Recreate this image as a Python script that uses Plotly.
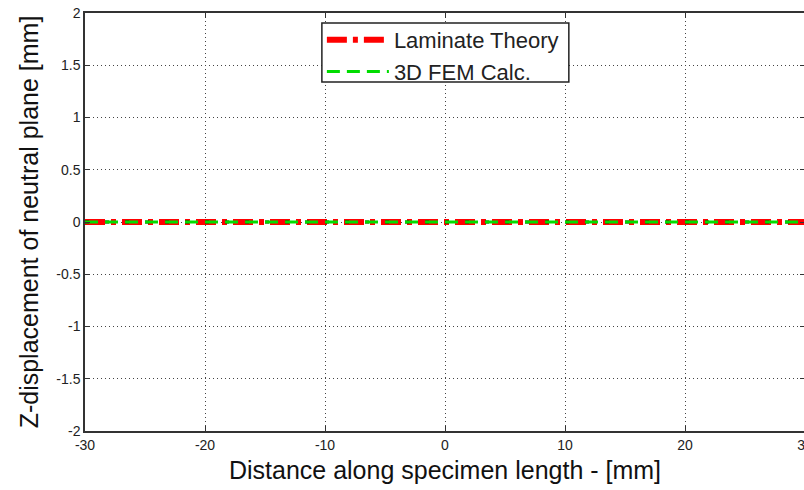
import plotly.graph_objects as go

# data
x_vals = [-30, -20, -10, 0, 10, 20, 30]
laminate_theory = [0, 0, 0, 0, 0, 0, 0]
fem_calc = [0, 0, 0, 0, 0, 0, 0]
x_ticks = [-30, -20, -10, 0, 10, 20, 30]
x_tick_labels = ["-30", "-20", "-10", "0", "10", "20", "30"]
y_ticks = [-2, -1.5, -1, -0.5, 0, 0.5, 1, 1.5, 2]
y_tick_labels = ["-2", "-1.5", "-1", "-0.5", "0", "0.5", "1", "1.5", "2"]

fig = go.Figure()
fig.add_trace(go.Scatter(x=x_vals, y=laminate_theory, mode="lines", name="Laminate Theory",
                         line=dict(color="#ff0000", width=6, dash="20px,6px,5px,6px")))
fig.add_trace(go.Scatter(x=x_vals, y=fem_calc, mode="lines", showlegend=False,
                         line=dict(color="black", width=3, dash="4px,16px")))
fig.add_trace(go.Scatter(x=x_vals, y=fem_calc, mode="lines", name="3D FEM Calc.",
                         line=dict(color="#00dd00", width=3, dash="13px,7px")))

axis_common = dict(showline=True, linecolor="#333333", linewidth=1.5, mirror="ticks",
                   ticks="inside", ticklen=5, tickcolor="#333333",
                   showgrid=True, gridcolor="#444444", griddash="1px,3px", gridwidth=1,
                   zeroline=False, ticklabeloverflow="allow", automargin=False,
                   tickfont=dict(family="Liberation Sans", size=14, color="#222222"))

fig.update_xaxes(range=[-30, 30], tickvals=x_ticks, ticktext=x_tick_labels,
                 title=dict(text="Distance along specimen length - [mm]",
                            font=dict(family="Liberation Sans", size=25, color="#111111"), standoff=10),
                 **axis_common)
fig.update_yaxes(range=[-2, 2], tickvals=y_ticks, ticktext=y_tick_labels,
                 title=dict(text="Z-displacement of neutral plane [mm]",
                            font=dict(family="Liberation Sans", size=25, color="#111111"), standoff=11),
                 **axis_common)

# legend frame (MATLAB-style tight box)
fig.add_shape(type="rect", xref="paper", yref="paper",
              x0=0.329, x1=0.672, y0=0.835, y1=0.976,
              line=dict(color="#222222", width=1.5), fillcolor="white", layer="above")

fig.update_layout(
    width=808, height=490,
    margin=dict(l=85, r=3, t=13, b=59),
    plot_bgcolor="white", paper_bgcolor="white",
    legend=dict(x=0.329, y=0.9856, xanchor="left", yanchor="top",
                borderwidth=0, bgcolor="rgba(0,0,0,0)",
                font=dict(family="Liberation Sans", size=22, color="#222222"),
                tracegroupgap=0, itemwidth=62),
)

fig.write_html("out.html", config={"responsive": False, "displayModeBar": False},
               post_script="document.body.style.margin='0';document.body.style.overflow='hidden';")
